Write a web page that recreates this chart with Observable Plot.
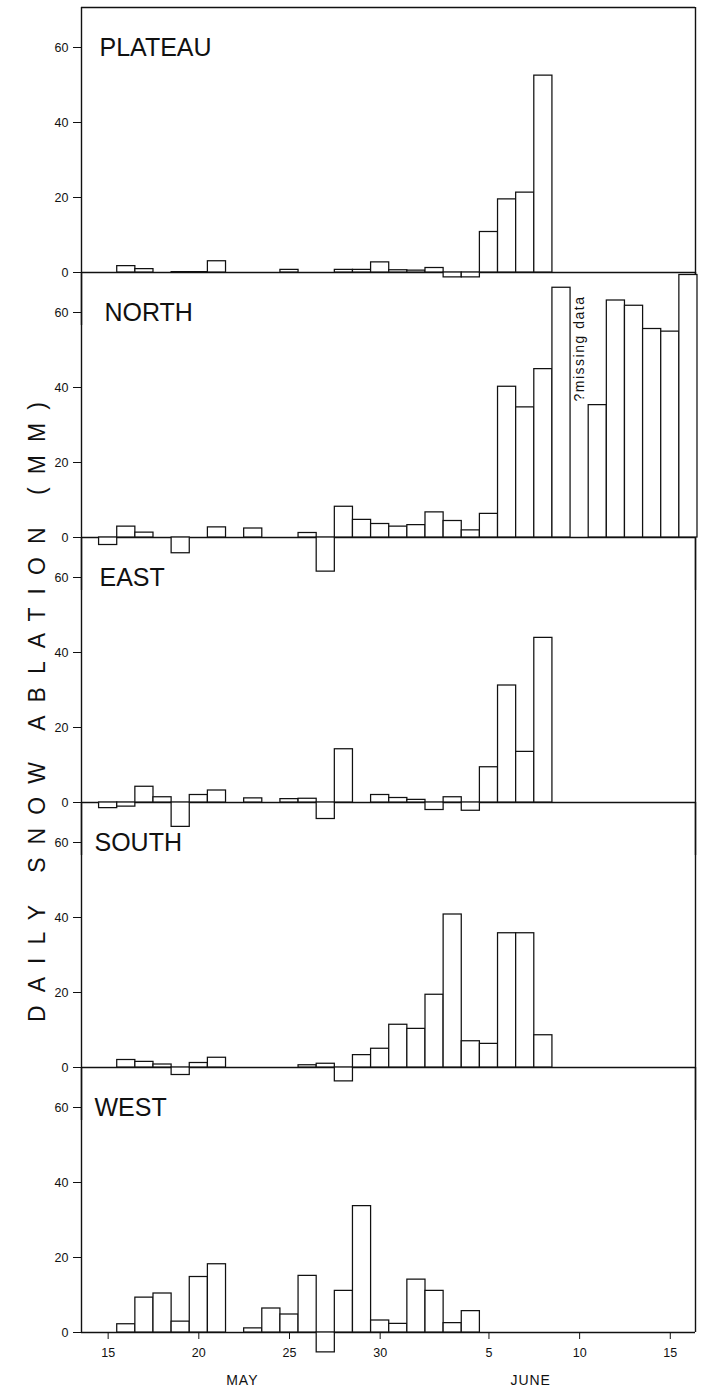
<!DOCTYPE html>
<html>
<head>
<meta charset="utf-8">
<script src="https://cdn.jsdelivr.net/npm/d3@7"></script>
<script src="https://cdn.jsdelivr.net/npm/@observablehq/plot@0.6"></script>
<style>
  html, body { margin: 0; padding: 0; background: #fff; }
  #chart { position: relative; width: 704px; height: 1390px; overflow: hidden;
           font-family: "Liberation Sans", Arial, Helvetica, sans-serif; }
</style>
</head>
<body>
<div id="chart"></div>
<script>
// ---------------- DATA ----------------
// day numbers counted from 1 May (May 15 = 15, June 1 = 32, June 16 = 47)
const days = [15,16,17,18,19,20,21,22,23,24,25,26,27,28,29,30,31,32,33,34,35,36,37,38,39,40,41,42,43,44,45,46,47];

// daily snow ablation (mm), one value per day above (null = no data)
const plateau = [0, 1.7, 0.9, 0, 0.1, 0.1, 3.0, 0, 0, 0, 0.7, 0, 0, 0.7, 0.7, 2.7, 0.6, 0.5, 1.2, -1.3, -1.3, 10.8, 19.5, 21.3, 52.5, null, null, null, null, null, null, null, null];
const north   = [-2.0, 2.9, 1.3, 0, -4.2, 0, 2.7, 0, 2.4, 0, 0, 1.2, -9.1, 8.2, 4.7, 3.6, 2.9, 3.3, 6.7, 4.4, 1.9, 6.3, 40.2, 34.7, 44.9, 66.6, null, 35.3, 63.2, 61.8, 55.6, 54.9, 70];
const east    = [-1.5, -1.1, 4.2, 1.4, -6.5, 2.0, 3.2, 0, 1.1, 0, 0.9, 1.0, -4.4, 14.2, 0, 2.0, 1.2, 0.7, -2.0, 1.4, -2.2, 9.4, 31.2, 13.5, 43.9, null, null, null, null, null, null, null, null];
const south   = [0, 2.0, 1.5, 0.8, -2.0, 1.2, 2.6, 0, 0, 0, 0, 0.6, 1.0, -3.7, 3.3, 5.0, 11.4, 10.3, 19.4, 40.8, 7.0, 6.3, 35.8, 35.8, 8.6, 0, 0, null, null, null, null, null, null];
const west    = [null, 2.2, 9.3, 10.4, 2.9, 14.8, 18.2, 0, 1.1, 6.4, 4.8, 15.1, -5.3, 11.1, 33.7, 3.2, 2.3, 14.1, 11.1, 2.5, 5.7, null, null, null, null, null, null, null, null, null, null, null, null];

const panelNames = ["PLATEAU", "NORTH", "EAST", "SOUTH", "WEST"];
const panelSeries = [plateau, north, east, south, west];

const yTicks = [0, 20, 40, 60];
const xTicks = [15, 20, 25, 30, 36, 41, 46];
const xTickLabels = ["15", "20", "25", "30", "5", "10", "15"];
const monthLabels = ["MAY", "JUNE"];
const monthDays = [22.4, 38.3];
const notes = [{panel: "NORTH", day: 41, text: "?missing data"}];
const axisTitle = "DAILY SNOW ABLATION (MM)";

// ---------------- LAYOUT ----------------
const W = 704, ML = 81, MR = 9;
const K = 3.75;          // px per mm
const STEP = 265;        // vertical distance between panel baselines
const TOP0 = 7;          // top of first panel
const yTop = STEP / K;
const PH = 318;          // svg height of upper panels (includes negative dip)
const XB = 58;           // bottom margin of last panel (x axis)
const xDomain = [13.53, 47.39];
const labelDx = [18, 23, 18, 13, 13];
const ink = "#111";
const font = "'Liberation Sans', Arial, Helvetica, sans-serif";
const tickLabelMap = new Map(xTicks.map((t, i) => [t, xTickLabels[i]]));

const chart = document.getElementById("chart");

panelNames.forEach((name, i) => {
  const last = i === panelNames.length - 1;
  const vals = panelSeries[i];
  const bars = days.map((day, j) => ({day, v: vals[j]})).filter(d => d.v != null && d.v !== 0);
  const height = last ? STEP + XB : PH;
  const yDomain = last ? [0, yTop] : [yTop - PH / K, yTop];

  const marks = [
    Plot.ruleY([0], {stroke: ink, strokeWidth: 1.4}),
    Plot.ruleX(xDomain, {stroke: ink, strokeWidth: 1.4}),
    Plot.rect(bars, {
      x1: d => d.day - 0.5, x2: d => d.day + 0.5,
      y1: 0, y2: "v",
      fill: "white", stroke: ink, strokeWidth: 1.25
    }),
    Plot.text([name], {
      text: d => d, frameAnchor: "left", y: yTicks[yTicks.length - 1],
      dx: labelDx[i], textAnchor: "start", lineAnchor: "middle",
      fontSize: 25, fill: ink
    }),
    Plot.text(notes.filter(n => n.panel === name), {
      x: "day", text: "text", frameAnchor: "top", dy: 76,
      rotate: -90, textAnchor: "middle", lineAnchor: "middle",
      fontSize: 14, fill: ink
    })
  ];
  if (i === 0) marks.push(Plot.ruleY([yTop], {stroke: ink, strokeWidth: 1.4}));
  if (last) {
    marks.push(Plot.text(monthLabels, {
      x: (d, k) => monthDays[k], text: d => d, frameAnchor: "bottom",
      dy: 48, lineAnchor: "middle", textAnchor: "middle", fontSize: 14, fill: ink
    }));
  }

  const svg = Plot.plot({
    width: W, height,
    marginLeft: ML, marginRight: MR, marginTop: 0, marginBottom: last ? XB : 0,
    style: {background: "transparent", overflow: "visible", fontFamily: font, fontSize: "12.5px", color: ink},
    x: last
      ? {domain: xDomain, ticks: xTicks, tickFormat: d => tickLabelMap.get(d), tickSize: 7, tickPadding: 9, label: null}
      : {domain: xDomain, axis: null},
    y: {domain: yDomain, ticks: yTicks, tickSize: 8, tickPadding: 5, label: null},
    marks
  });
  svg.style.position = "absolute";
  svg.style.left = "0px";
  svg.style.top = (TOP0 + STEP * i) + "px";
  chart.appendChild(svg);
  d3.select(svg).selectAll("text").filter(function() { return this.textContent === notes[0].text; })
    .style("letter-spacing", "1.5px");
  if (last) d3.select(svg).selectAll("text").filter(function() { return monthLabels.includes(this.textContent); })
    .style("letter-spacing", "1px");
});

// vertical axis title spanning all panels
const ns = "http://www.w3.org/2000/svg";
const t = document.createElementNS("http://www.w3.org/2000/svg", "svg");
t.setAttribute("width", 60); t.setAttribute("height", 1390);
t.style.position = "absolute"; t.style.left = "0px"; t.style.top = "0px";
const tx = document.createElementNS(ns, "text");
tx.setAttribute("transform", "translate(45,712) rotate(-90)");
tx.setAttribute("text-anchor", "middle");
tx.setAttribute("font-size", "23");
tx.setAttribute("font-family", font);
tx.setAttribute("fill", ink);
tx.setAttribute("textLength", "620");
tx.setAttribute("lengthAdjust", "spacing");
tx.textContent = axisTitle;
t.appendChild(tx);
chart.appendChild(t);
</script>
</body>
</html>
